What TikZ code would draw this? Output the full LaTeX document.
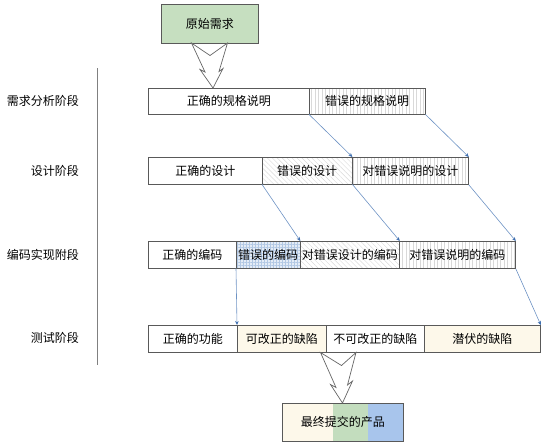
\documentclass[tikz,border=0pt]{standalone}
\usepackage{fontspec}
\setmainfont{Noto Sans CJK SC}
\usetikzlibrary{patterns.meta,arrows.meta}
\definecolor{topgreen}{HTML}{C6DFC0}
\definecolor{cream}{HTML}{FDF8EA}
\definecolor{fgreen}{HTML}{C3DDBE}
\definecolor{fblue}{HTML}{A8C5EC}
\definecolor{conncol}{HTML}{6E93C4}
\definecolor{tipcol}{HTML}{3F6FB0}
\definecolor{gridbg}{HTML}{E4ECF6}
\definecolor{gridln}{HTML}{B2C8E4}
\begin{document}
\begin{tikzpicture}[x=1pt,y=-1pt,
 cell/.style={draw=black!65, line width=0.8pt, rectangle, anchor=north west, inner sep=0pt, font=\fontsize{12}{14}\selectfont, text=black},
 vhatch/.style={pattern={Lines[angle=90,distance=3.5pt,line width=0.4pt]}, pattern color=black!15},
 dhatch/.style={pattern={Lines[angle=135,distance=3.5pt,line width=0.4pt]}, pattern color=black!15},
 ghatch/.style={preaction={fill=gridbg}, pattern={Hatch[angle=0,distance=3pt,line width=0.35pt]}, pattern color=gridln},
 conn/.style={draw=conncol, line width=0.6pt, -{Stealth[length=4pt,width=3.5pt,color=tipcol]}},
 bigarrow/.style={draw=black!60, fill=white, line width=0.7pt, line join=miter},
 stage/.style={anchor=east, inner sep=0pt, font=\fontsize{12}{14}\selectfont}
]
\useasboundingbox (0,0) rectangle (545,445);

% stage labels and separator
\node[stage] (s1) at (79,101) {需求分析阶段};
\node[stage] (s2) at (79,171) {设计阶段};
\node[stage] (s3) at (79,255) {编码实现附段};
\node[stage] (s4) at (79,338) {测试阶段};
\draw[black!50, line width=1pt] (97,68) -- (97,365);

% source
\node[cell, fill=topgreen, minimum width=97, minimum height=39] (src) at (161,4) {原始需求};

% row 1
\node[cell, minimum width=161, minimum height=26] (a1) at (148,88) {正确的规格说明};
\node[cell, vhatch, minimum width=116, minimum height=26] (a2) at (309,88) {错误的规格说明};

% row 2
\node[cell, minimum width=114, minimum height=27] (b1) at (148,157) {正确的设计};
\node[cell, dhatch, minimum width=90, minimum height=27] (b2) at (262,157) {错误的设计};
\node[cell, vhatch, minimum width=116, minimum height=27] (b3) at (352,157) {对错误说明的设计};

% row 3
\node[cell, minimum width=88, minimum height=27] (c1) at (148,241) {正确的编码};
\node[cell, ghatch, minimum width=64, minimum height=27] (c2) at (236,241) {错误的编码};
\node[cell, dhatch, minimum width=99, minimum height=27] (c3) at (300,241) {对错误设计的编码};
\node[cell, vhatch, minimum width=116, minimum height=27] (c4) at (399,241) {对错误说明的编码};

% row 4
\node[cell, minimum width=89, minimum height=27] (d1) at (148,325) {正确的功能};
\node[cell, fill=cream, minimum width=89, minimum height=27] (d2) at (237,325) {可改正的缺陷};
\node[cell, minimum width=98, minimum height=27] (d3) at (326,325) {不可改正的缺陷};
\node[cell, fill=cream, minimum width=116, minimum height=27] (d4) at (424,325) {潜伏的缺陷};

% final product
\fill[cream] (282,403) rectangle (333,441);
\fill[fgreen] (333,403) rectangle (368,441);
\fill[fblue] (368,403) rectangle (403,441);
\node[cell, minimum width=121, minimum height=38] (fin) at (282,403) {最终提交的产品};

% hollow arrows
\draw[bigarrow] (191.5,43) -- (210,55.5) -- (227.5,43) -- (219,71.5) -- (223,68.5) -- (213,88) -- (200,69.5) -- (205,72) -- cycle;
\draw[bigarrow] (320.5,352.5) -- (341.5,365.5) -- (356,352.5) -- (347.5,385) -- (352.5,381) -- (342.5,403) -- (330.5,384.5) -- (336,387.5) -- cycle;

% connectors
\draw[conn] (a2.south west) -- (b2.north east);
\draw[conn] (a2.south east) -- (b3.north east);
\draw[conn] (b2.south west) -- (c2.north east);
\draw[conn] (b2.south east) -- (c3.north east);
\draw[conn] (b3.south east) -- (c4.north east);
\draw[conn] (c2.south west) -- (d2.north west);
\draw[conn] (c4.south east) -- (d4.north east);
\end{tikzpicture}
\end{document}
